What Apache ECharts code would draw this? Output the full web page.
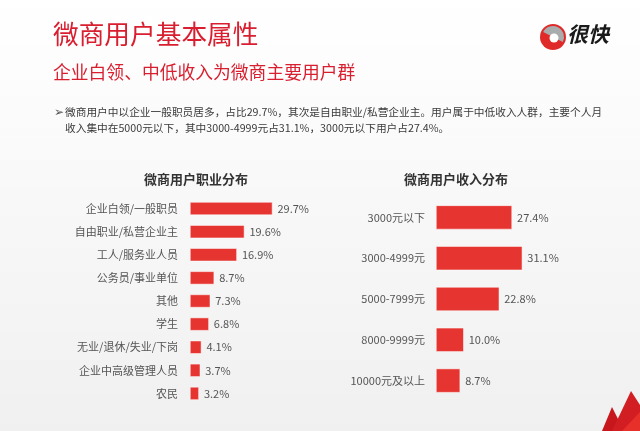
<!DOCTYPE html>
<html>
<head>
<meta charset="utf-8">
<script src="https://cdn.jsdelivr.net/npm/echarts@6/dist/echarts.min.js"></script>
<style>
  html, body { margin: 0; padding: 0; }
  #main { width: 640px; height: 431px; }
</style>
</head>
<body>
<div id="main"></div>
<script>
// occupation distribution (left chart)
const jobCategories = ['企业白领/一般职员', '自由职业/私营企业主', '工人/服务业人员', '公务员/事业单位', '其他', '学生', '无业/退休/失业/下岗', '企业中高级管理人员', '农民'];
const jobValues = [29.7, 19.6, 16.9, 8.7, 7.3, 6.8, 4.1, 3.7, 3.2];

// income distribution (right chart)
const incomeCategories = ['3000元以下', '3000-4999元', '5000-7999元', '8000-9999元', '10000元及以上'];
const incomeValues = [27.4, 31.1, 22.8, 10.0, 8.7];

const RED = '#e63430';
const FONT = '"Noto Sans CJK SC", "Noto Sans", sans-serif';
const line1 = '微商用户中以企业一般职员居多，占比29.7%，其次是自由职业/私营企业主。用户属于中低收入人群，主要个人月';
const line2 = '收入集中在5000元以下，其中3000-4999元占31.1%，3000元以下用户占27.4%。';

let myChart = echarts.init(document.getElementById('main'));

const pctLabel = {
    show: true,
    position: 'right',
    distance: 5,
    color: '#555',
    fontSize: 11,
    fontFamily: FONT,
    formatter: p => p.value.toFixed(1) + '%'
};

let options = {
    backgroundColor: {
        type: 'linear', x: 0, y: 0, x2: 0, y2: 1,
        colorStops: [{ offset: 0, color: '#ffffff' }, { offset: 1, color: '#f0f0f0' }]
    },
    textStyle: { fontFamily: FONT },
    title: [
        { text: '微商用户职业分布', left: 191, top: 168, textAlign: 'center',
          textStyle: { fontSize: 13, fontWeight: 'bold', color: '#333', fontFamily: FONT } },
        { text: '微商用户收入分布', left: 451, top: 168, textAlign: 'center',
          textStyle: { fontSize: 13, fontWeight: 'bold', color: '#333', fontFamily: FONT } }
    ],
    grid: [
        { left: 190, top: 197, width: 111, height: 208 },
        { left: 436, top: 197, width: 111, height: 204 }
    ],
    xAxis: [
        { gridIndex: 0, type: 'value', min: 0, max: 40, show: false },
        { gridIndex: 1, type: 'value', min: 0, max: 40, show: false }
    ],
    yAxis: [
        { gridIndex: 0, type: 'category', data: jobCategories, inverse: true,
          axisLine: { show: false }, axisTick: { show: false },
          axisLabel: { margin: 12, color: '#555', fontSize: 11, fontFamily: FONT } },
        { gridIndex: 1, type: 'category', data: incomeCategories, inverse: true,
          axisLine: { show: false }, axisTick: { show: false },
          axisLabel: { margin: 11, color: '#555', fontSize: 11, fontFamily: FONT } }
    ],
    series: [
        { type: 'bar', xAxisIndex: 0, yAxisIndex: 0, data: jobValues, barWidth: 13,
          itemStyle: { color: RED, borderColor: '#fff', borderWidth: 0.5 }, label: pctLabel, silent: true },
        { type: 'bar', xAxisIndex: 1, yAxisIndex: 1, data: incomeValues, barWidth: 24,
          itemStyle: { color: RED, borderColor: '#fff', borderWidth: 0.5 }, label: pctLabel, silent: true }
    ],
    graphic: [
        { type: 'text', left: 53, top: 21,
          style: { text: '微商用户基本属性', fill: '#d81e2f', font: '25.7px ' + FONT } },
        { type: 'text', left: 53, top: 63,
          style: { text: '企业白领、中低收入为微商主要用户群', fill: '#d81e2f', font: '17.8px ' + FONT } },
        // logo
        { type: 'circle', shape: { cx: 553, cy: 37, r: 13 }, style: { fill: '#e02a2a' } },
        { type: 'sector', shape: { cx: 553, cy: 37, r: 11, r0: 0, startAngle: -Math.PI * 0.85, endAngle: Math.PI * 0.15 },
          style: { fill: '#a9acac' } },
        { type: 'circle', shape: { cx: 554, cy: 38, r: 4.5 }, style: { fill: '#fff' } },
        { type: 'text', left: 567, top: 24,
          style: { text: '很快', fill: '#1a1a1a', font: 'italic bold 21px ' + FONT } },
        // bullet text
        { type: 'text', left: 54, top: 107,
          style: { text: '➢', fill: '#555', font: '12px "DejaVu Sans", sans-serif' } },
        { type: 'text', left: 65, top: 107,
          style: { text: line1, fill: '#3a3a3a', font: '10.7px ' + FONT } },
        { type: 'text', left: 65, top: 123,
          style: { text: line2, fill: '#3a3a3a', font: '10.7px ' + FONT } },
        // corner decoration
        { type: 'polygon', shape: { points: [[612, 407], [602, 431], [624, 431]] }, style: { fill: '#c8161d' } },
        { type: 'polygon', shape: { points: [[631, 391], [612, 431], [640, 431], [640, 405]] }, style: { fill: '#d21d22' } },
        { type: 'polygon', shape: { points: [[640, 412], [622, 431], [640, 431]] }, style: { fill: '#e8302b' } }
    ]
};

myChart.setOption(options);
</script>
</body>
</html>
